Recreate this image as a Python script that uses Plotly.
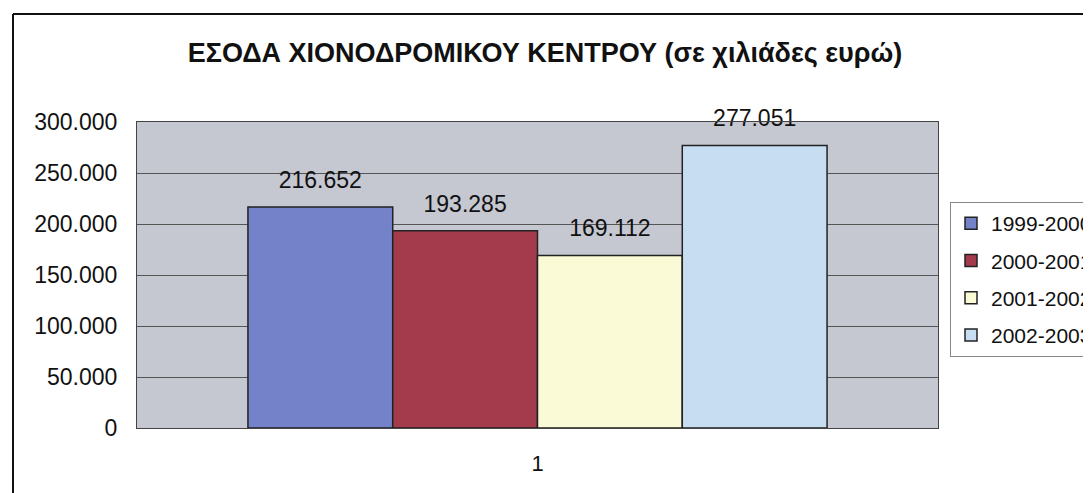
import plotly.graph_objects as go

categories = ["1"]
series_names = ["1999-2000", "2000-2001", "2001-2002", "2002-2003"]
series_values = [216652, 193285, 169112, 277051]
colors = ["#7482c9", "#a33b4c", "#fafad6", "#c7ddf2"]
y_ticks = [0, 50000, 100000, 150000, 200000, 250000, 300000]

FONT = "Liberation Sans, Arial"
fig = go.Figure()
for i, (name, val, col) in enumerate(zip(series_names, series_values, colors)):
    fig.add_trace(go.Bar(
        x=categories, y=[val], name=name,
        marker=dict(color=col, line=dict(color="#222222", width=1.5)),
        offsetgroup=str(i), alignmentgroup="a",
        legendgroup=f"g{i}",
    ))
for i, (name, val) in enumerate(zip(series_names, series_values)):
    fig.add_trace(go.Scatter(
        x=categories, y=[val], mode="markers+text",
        marker=dict(size=20, color="rgba(0,0,0,0)"),
        text=[val], texttemplate="%{y:,}", textposition="top center",
        textfont=dict(size=23, color="#111111", family=FONT),
        offsetgroup=str(i), alignmentgroup="a",
        showlegend=False, hoverinfo="skip", cliponaxis=False,
    ))

OFF = 8  # page body margin
W, H = 1091 - OFF, 493 - OFF
L, T = 137 - OFF, 122 - OFF
R = W - (938 - OFF)
B = H - (428 - OFF)
pw, ph = W - L - R, H - T - B

def px(x):
    return (x - OFF - L) / pw

def py(y):
    return (H - B - (y - OFF)) / ph

fig.update_layout(
    width=W, height=H,
    margin=dict(l=L, r=R, t=T, b=B, autoexpand=False),
    paper_bgcolor="white",
    plot_bgcolor="#c5c7d1",
    separators=",.",
    barmode="group",
    scattermode="group",
    bargap=0.277,
    bargroupgap=0,
    font=dict(family=FONT, color="#111111"),
    title=dict(
        text="<b>ΕΣΟΔΑ ΧΙΟΝΟΔΡΟΜΙΚΟΥ ΚΕΝΤΡΟΥ (σε χιλιάδες ευρώ)</b>",
        x=px(545), xref="paper", xanchor="center",
        y=1 - (53 - OFF) / H, yanchor="middle",
        font=dict(size=27, family=FONT, color="#111111"),
    ),
    legend=dict(
        x=px(950), y=py(202), xanchor="left", yanchor="top",
        bordercolor="#888888", borderwidth=1, bgcolor="white",
        font=dict(size=21, color="#111111"),
        tracegroupgap=7,
    ),
    xaxis=dict(
        showgrid=False, showline=True, linecolor="#444444", linewidth=1,
        ticks="", tickfont=dict(size=22, color="#111111"),
        mirror=True, ticklabelstandoff=16,
    ),
    yaxis=dict(
        range=[0, 300000], tickvals=y_ticks, tickformat=",",
        showgrid=True, gridcolor="#555555", gridwidth=1,
        showline=True, linecolor="#444444", linewidth=1, mirror=True,
        ticks="", tickfont=dict(size=23, color="#111111"),
        ticklabelstandoff=14, zeroline=False,
    ),
    showlegend=True,
)

# outer chart-area frame
fig.add_shape(type="line", xref="paper", yref="paper",
              x0=px(13), x1=px(13), y0=py(14), y1=py(H + 20),
              line=dict(color="#111111", width=2))
fig.add_shape(type="line", xref="paper", yref="paper",
              x0=px(13), x1=px(W + 20), y0=py(14), y1=py(14),
              line=dict(color="#111111", width=2))

fig.write_html("out.html")
